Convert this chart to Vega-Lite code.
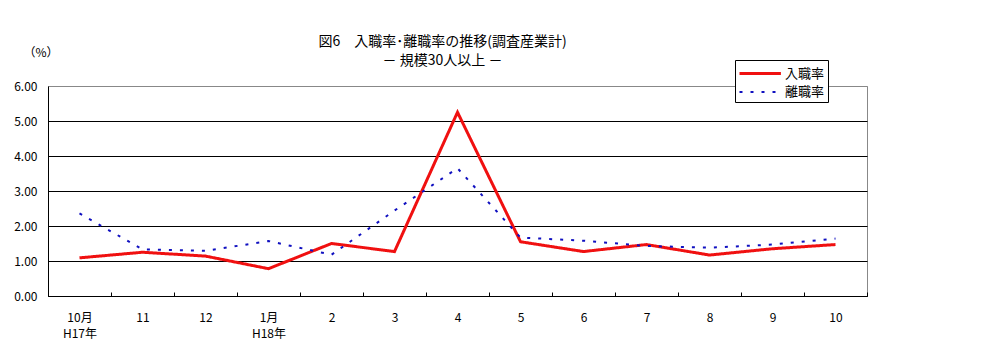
{
  "$schema": "https://vega.github.io/schema/vega-lite/v6.json",
  "width": 819,
  "height": 210,
  "autosize": "none",
  "padding": {"left": 48, "top": 86, "right": 121, "bottom": 64},
  "background": "white",
  "config": {
    "font": "Noto Sans CJK JP",
    "view": {"stroke": "#888888", "strokeWidth": 1},
    "axis": {"labelFont": "Noto Sans CJK JP", "titleFont": "Noto Sans CJK JP"}
  },
  "title": {
    "text": "図6　入職率･離職率の推移(調査産業計)",
    "subtitle": "－ 規模30人以上 －",
    "fontSize": 14,
    "fontWeight": "normal",
    "color": "black",
    "subtitleFont": "Noto Sans CJK JP",
    "subtitleFontSize": 14,
    "subtitleColor": "black",
    "subtitlePadding": 5,
    "anchor": "middle",
    "dx": -15,
    "offset": -22
  },
  "data": {
    "values": [
      {"month": "10月\nH17年", "series": "入職率", "rate": 1.09},
      {"month": "11", "series": "入職率", "rate": 1.25},
      {"month": "12", "series": "入職率", "rate": 1.14},
      {"month": "1月\nH18年", "series": "入職率", "rate": 0.78},
      {"month": "2", "series": "入職率", "rate": 1.50},
      {"month": "3", "series": "入職率", "rate": 1.27},
      {"month": "4", "series": "入職率", "rate": 5.25},
      {"month": "5", "series": "入職率", "rate": 1.55},
      {"month": "6", "series": "入職率", "rate": 1.27},
      {"month": "7", "series": "入職率", "rate": 1.47},
      {"month": "8", "series": "入職率", "rate": 1.17},
      {"month": "9", "series": "入職率", "rate": 1.35},
      {"month": "10", "series": "入職率", "rate": 1.47},
      {"month": "10月\nH17年", "series": "離職率", "rate": 2.36},
      {"month": "11", "series": "離職率", "rate": 1.33},
      {"month": "12", "series": "離職率", "rate": 1.29},
      {"month": "1月\nH18年", "series": "離職率", "rate": 1.57},
      {"month": "2", "series": "離職率", "rate": 1.18},
      {"month": "3", "series": "離職率", "rate": 2.44},
      {"month": "4", "series": "離職率", "rate": 3.65},
      {"month": "5", "series": "離職率", "rate": 1.67},
      {"month": "6", "series": "離職率", "rate": 1.58},
      {"month": "7", "series": "離職率", "rate": 1.43},
      {"month": "8", "series": "離職率", "rate": 1.38},
      {"month": "9", "series": "離職率", "rate": 1.47},
      {"month": "10", "series": "離職率", "rate": 1.64}
    ]
  },
  "mark": {"type": "line"},
  "encoding": {
    "x": {
      "field": "month",
      "type": "nominal",
      "sort": null,
      "scale": {"type": "band", "paddingInner": 0, "paddingOuter": 0},
      "axis": {
        "title": null,
        "labelAngle": 0,
        "labelFontSize": 12,
        "labelColor": "black",
        "labelExpr": "split(datum.label, '\\n')",
        "labelLineHeight": 16,
        "labelBaseline": "top",
        "labelPadding": 20,
        "tickBand": "extent",
        "tickSize": -4,
        "tickColor": "black",
        "domainColor": "black",
        "grid": false
      }
    },
    "y": {
      "field": "rate",
      "type": "quantitative",
      "scale": {"domain": [0, 6], "nice": false},
      "axis": {
        "title": "（%）",
        "titleAngle": 0,
        "titleAlign": "left",
        "titleBaseline": "middle",
        "titleX": -25,
        "titleY": -34,
        "titleFontSize": 12,
        "titleFontWeight": "normal",
        "titleColor": "black",
        "values": [0, 1, 2, 3, 4, 5, 6],
        "format": ".2f",
        "labelFontSize": 12,
        "labelColor": "black",
        "labelPadding": 11,
        "tickSize": 0,
        "domainColor": "black",
        "grid": true,
        "gridColor": {"condition": {"test": "datum.value === 6", "value": "#888888"}, "value": "black"},
        "gridOpacity": 1
      }
    },
    "color": {
      "field": "series",
      "type": "nominal",
      "sort": ["入職率", "離職率"],
      "scale": {"domain": ["入職率", "離職率"], "range": ["#F01010", "#1010C0"]},
      "legend": {
        "title": null,
        "orient": "none",
        "legendX": 687,
        "legendY": -26,
        "strokeColor": "black",
        "fillColor": "white",
        "padding": 3,
        "labelFontSize": 13,
        "labelColor": "black",
        "symbolType": "M-1,0H3.6",
        "symbolSize": 324,
        "symbolStrokeWidth": 2.5,
        "rowPadding": 1,
        "labelOffset": 26
      }
    },
    "strokeDash": {
      "field": "series",
      "type": "nominal",
      "sort": ["入職率", "離職率"],
      "scale": {"domain": ["入職率", "離職率"], "range": [[1, 0], [3, 8]]},
      "legend": null
    },
    "strokeWidth": {
      "field": "series",
      "type": "nominal",
      "scale": {"domain": ["入職率", "離職率"], "range": [3, 2]},
      "legend": null
    }
  }
}
